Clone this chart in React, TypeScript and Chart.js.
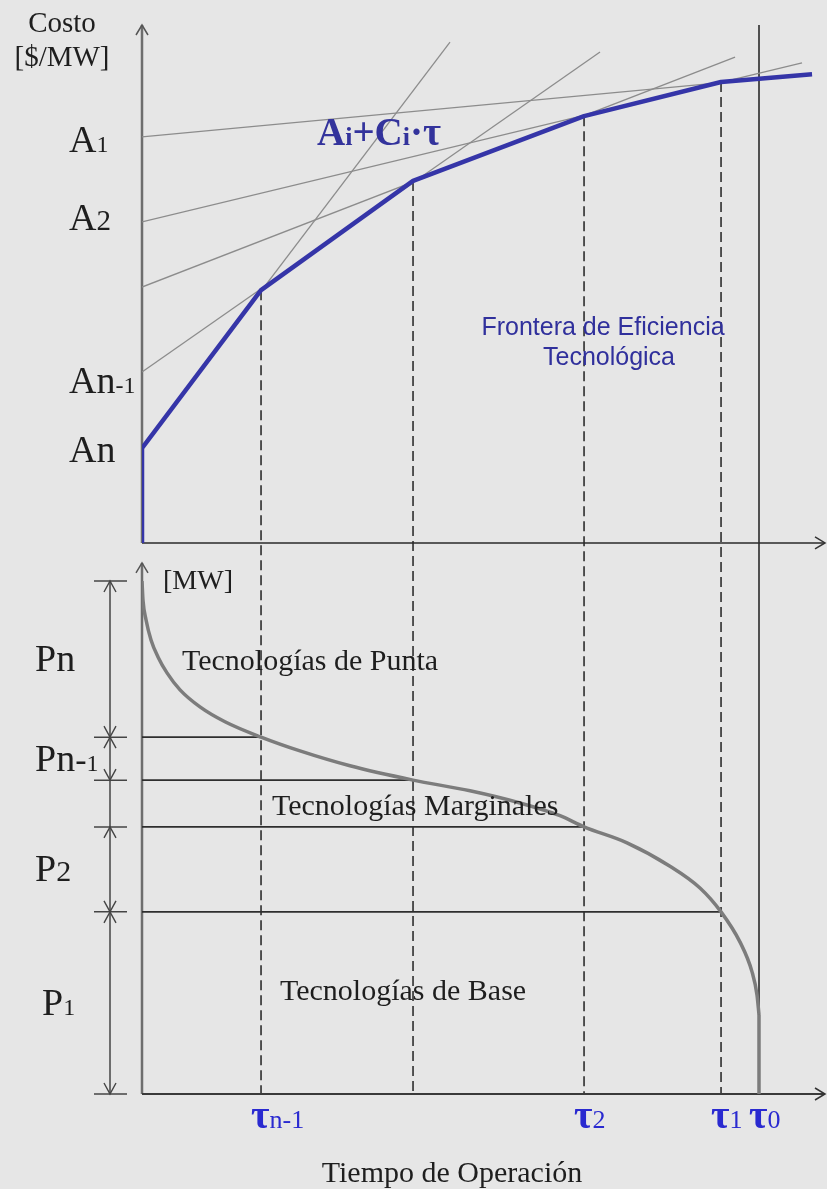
import React, { useEffect, useRef } from 'react';
import { Chart, registerables } from 'chart.js';

Chart.register(...registerables);

// ---------- data (x in hours of operation, cost in $/MW units, power in MW) ----------
const hoursAxisMax = 9697;
const costAxisMin = -106.4;
const costAxisMax = 100;
const mwAxisMax = 201.3;
const costArrowTop = 100;
const mwArrowTop = 100;

const frontierX = [0, 0, 1690, 3848, 6276, 8221, 9513];
const frontierY = [0, 18.3, 48.8, 69.9, 82.4, 89.0, 90.5];

const techNames = ['A1', 'A2', '', 'An-1', 'An'];
const techIntercepts = [78.4, 62.0, 49.4, 33.0, 18.3];
const techEndX = [9513, 9371, 8420, 6503, 4373];
const techEndY = [90.5, 92.7, 93.8, 94.8, 96.7];

const tauX = [1690, 3848, 6276, 8221];
const tauNames = ['τn-1', '', 'τ2', 'τ1'];
const tauFrontierCost = [48.8, 69.9, 82.4, 89.0];
const tauLevelsMW = [67.2, 59.1, 50.3, 34.3];
const tau0 = 8760;
const tau0Name = 'τ0';

const ldcX = [0, 14, 57, 128, 227, 355, 540, 823, 1178, 1690, 2243, 2953, 3848, 4657, 5367, 5935, 6276, 6886, 7496, 7922, 8221, 8491, 8661, 8732, 8760];
const ldcY = [96.6, 93.0, 89.3, 85.5, 82.3, 79.3, 76.1, 72.9, 70.1, 67.2, 64.6, 61.8, 59.1, 57.1, 54.8, 52.4, 50.3, 47.3, 42.9, 38.8, 34.3, 28.6, 23.0, 18.6, 14.9];

const powerBounds = [96.6, 67.2, 59.1, 50.3, 34.3, 0];
const powerNames = ['Pn', 'Pn-1', '', 'P2', 'P1'];

const zoneNames = ['Tecnologías de Punta', 'Tecnologías Marginales', 'Tecnologías de Base'];

// ---------- styles ----------
const BG = '#e6e6e6';
const SERIF = '"Liberation Serif", "Times New Roman", serif';
const SANS = '"Liberation Sans", Arial, sans-serif';
const BLUE_DARK = '#33339c';
const BLUE_TAU = '#2a2ad0';
const TEXT = '#1e1e1e';

type Part = { t: string; size: number; bold?: boolean };

function drawRich(ctx: CanvasRenderingContext2D, parts: Part[], x: number, y: number, color: string, family: string, align: 'left' | 'center' = 'left') {
  ctx.save();
  ctx.fillStyle = color;
  ctx.textBaseline = 'alphabetic';
  ctx.textAlign = 'left';
  const widths = parts.map((p) => {
    ctx.font = `${p.bold ? 'bold ' : ''}${p.size}px ${family}`;
    return ctx.measureText(p.t).width;
  });
  const total = widths.reduce((a, b) => a + b, 0);
  let cx = align === 'center' ? x - total / 2 : x;
  parts.forEach((p, i) => {
    ctx.font = `${p.bold ? 'bold ' : ''}${p.size}px ${family}`;
    ctx.fillText(p.t, cx, y);
    cx += widths[i];
  });
  ctx.restore();
}

function line(ctx: CanvasRenderingContext2D, x1: number, y1: number, x2: number, y2: number, color: string, w: number, dash: number[] = []) {
  ctx.save();
  ctx.strokeStyle = color;
  ctx.lineWidth = w;
  ctx.setLineDash(dash);
  ctx.beginPath();
  ctx.moveTo(x1, y1);
  ctx.lineTo(x2, y2);
  ctx.stroke();
  ctx.restore();
}

function chevron(ctx: CanvasRenderingContext2D, x: number, y: number, dx: number, dy: number, color: string, len = 10, half = 6, w = 1.5) {
  const px = -dy, py = dx;
  ctx.save();
  ctx.strokeStyle = color;
  ctx.lineWidth = w;
  ctx.beginPath();
  ctx.moveTo(x - dx * len + px * half, y - dy * len + py * half);
  ctx.lineTo(x, y);
  ctx.lineTo(x - dx * len - px * half, y - dy * len - py * half);
  ctx.stroke();
  ctx.restore();
}

const diagramPlugin = {
  id: 'diagram',
  beforeDraw(chart: any) {
    const ctx = chart.ctx as CanvasRenderingContext2D;
    ctx.save();
    ctx.fillStyle = BG;
    ctx.fillRect(0, 0, chart.width, chart.height);
    ctx.restore();
  },
  beforeDatasetsDraw(chart: any) {
    const ctx = chart.ctx as CanvasRenderingContext2D;
    const xs = chart.scales.x;
    const yc = chart.scales.yCost;
    const ym = chart.scales.yMW;
    const x0 = xs.getPixelForValue(0);
    const xEnd = xs.getPixelForValue(hoursAxisMax);
    tauX.forEach((t, i) => {
      const px = xs.getPixelForValue(t);
      line(ctx, px, yc.getPixelForValue(tauFrontierCost[i]), px, ym.getPixelForValue(0), '#2e2e2e', 1.6, [10, 5]);
    });
    const p0 = xs.getPixelForValue(tau0);
    line(ctx, p0, yc.getPixelForValue(costArrowTop), p0, ym.getPixelForValue(0), '#505050', 2);
    line(ctx, x0, yc.getPixelForValue(0), x0, yc.getPixelForValue(costArrowTop), '#6e6e6e', 2.5);
    line(ctx, x0, yc.getPixelForValue(0), xEnd, yc.getPixelForValue(0), '#2a2a2a', 1.6);
    line(ctx, x0, ym.getPixelForValue(0), x0, ym.getPixelForValue(mwArrowTop), '#6e6e6e', 2.5);
    line(ctx, x0, ym.getPixelForValue(0), xEnd, ym.getPixelForValue(0), '#3a3a3a', 2);
  },
  afterDatasetsDraw(chart: any) {
    const ctx = chart.ctx as CanvasRenderingContext2D;
    const xs = chart.scales.x;
    const yc = chart.scales.yCost;
    const ym = chart.scales.yMW;
    const x0 = xs.getPixelForValue(0);
    const xEnd = xs.getPixelForValue(hoursAxisMax);
    chevron(ctx, x0, yc.getPixelForValue(costArrowTop), 0, -1, '#555');
    chevron(ctx, x0, ym.getPixelForValue(mwArrowTop), 0, -1, '#555');
    chevron(ctx, xEnd, yc.getPixelForValue(0), 1, 0, '#333');
    chevron(ctx, xEnd, ym.getPixelForValue(0), 1, 0, '#333');

    const dimX = x0 - 32;
    line(ctx, dimX, ym.getPixelForValue(powerBounds[0]), dimX, ym.getPixelForValue(0), '#444', 1.5);
    powerBounds.forEach((b) => {
      const py = ym.getPixelForValue(b);
      line(ctx, x0 - 48, py, x0 - 15, py, '#444', 1.5);
    });
    powerNames.forEach((n, i) => {
      if (!n) return;
      const top = ym.getPixelForValue(powerBounds[i]);
      const bot = ym.getPixelForValue(powerBounds[i + 1]);
      chevron(ctx, dimX, top, 0, -1, '#444', 11, 6, 1.4);
      chevron(ctx, dimX, bot, 0, 1, '#444', 11, 6, 1.4);
      const mid = (top + bot) / 2;
      let parts: Part[];
      if (n === 'Pn') parts = [{ t: 'Pn', size: 38 }];
      else if (n === 'Pn-1') parts = [{ t: 'Pn', size: 38 }, { t: '-', size: 34 }, { t: '1', size: 24 }];
      else parts = [{ t: 'P', size: 38 }, { t: n.slice(1), size: n === 'P1' ? 24 : 30 }];
      drawRich(ctx, parts, n === 'P1' ? 42 : 35, mid + 12, TEXT, SERIF);
    });

    const techDy = [15, 8, 0, 21, 14];
    techNames.forEach((n, i) => {
      if (!n) return;
      const py = yc.getPixelForValue(techIntercepts[i]) + techDy[i];
      let parts: Part[];
      if (n === 'An') parts = [{ t: 'An', size: 38 }];
      else if (n === 'An-1') parts = [{ t: 'An', size: 38 }, { t: '-1', size: 24 }];
      else parts = [{ t: 'A', size: 38 }, { t: n.slice(1), size: n === 'A1' ? 24 : 29 }];
      drawRich(ctx, parts, 69, py, TEXT, SERIF);
    });

    drawRich(ctx, [{ t: 'Costo', size: 29 }], 62, yc.getPixelForValue(costArrowTop) + 7, TEXT, SERIF, 'center');
    drawRich(ctx, [{ t: '[$/MW]', size: 29 }], 62, yc.getPixelForValue(costArrowTop) + 41, TEXT, SERIF, 'center');
    drawRich(ctx, [{ t: '[MW]', size: 28 }], x0 + 21, ym.getPixelForValue(mwArrowTop) + 26, TEXT, SERIF);

    drawRich(ctx, [
      { t: 'A', size: 39, bold: true },
      { t: 'i', size: 26, bold: true },
      { t: '+', size: 39, bold: true },
      { t: 'C', size: 39, bold: true },
      { t: 'i', size: 26, bold: true },
      { t: '·', size: 39, bold: true },
      { t: 'τ', size: 39, bold: true },
    ], 317, 145, BLUE_DARK, SERIF);

    drawRich(ctx, [{ t: 'Frontera de Eficiencia', size: 25 }], 603, 335, '#30309c', SANS, 'center');
    drawRich(ctx, [{ t: 'Tecnológica', size: 25 }], 609, 365, '#30309c', SANS, 'center');

    drawRich(ctx, [{ t: zoneNames[0], size: 30 }], 182, 670, TEXT, SERIF);
    drawRich(ctx, [{ t: zoneNames[1], size: 30 }], 272, 815, TEXT, SERIF);
    drawRich(ctx, [{ t: zoneNames[2], size: 30 }], 280, 1000, TEXT, SERIF);

    const tauBase = ym.getPixelForValue(0) + 34;
    const drawTau = (name: string, t: number) => {
      const px = xs.getPixelForValue(t);
      drawRich(ctx, [{ t: 'τ', size: 40, bold: true }, { t: name.slice(1), size: 26 }], px - 10, tauBase, BLUE_TAU, SERIF);
    };
    tauNames.forEach((n, i) => { if (n) drawTau(n, tauX[i]); });
    drawTau(tau0Name, tau0);

    drawRich(ctx, [{ t: 'Tiempo de Operación', size: 30 }], 452, ym.getPixelForValue(0) + 88, TEXT, SERIF, 'center');
  },
};

export default function App() {
  const ref = useRef<HTMLCanvasElement>(null);
  useEffect(() => {
    document.body.style.margin = '0';
    document.body.style.background = BG;
    const pts = (xs: number[], ys: number[]) => xs.map((x, i) => ({ x, y: ys[i] }));
    const datasets: any[] = [];
    datasets.push({
      data: pts(frontierX, frontierY), yAxisID: 'yCost', borderColor: '#3535a8', borderWidth: 4.5,
      showLine: true, pointRadius: 0, tension: 0, borderJoinStyle: 'round',
    });
    datasets.push({
      data: pts(ldcX, ldcY), yAxisID: 'yMW', borderColor: '#7c7c7c', borderWidth: 3.5,
      showLine: true, pointRadius: 0, cubicInterpolationMode: 'monotone',
    });
    datasets.push({
      data: [{ x: tau0, y: ldcY[ldcY.length - 1] }, { x: tau0, y: 0 }], yAxisID: 'yMW', borderColor: '#7c7c7c', borderWidth: 3.5,
      showLine: true, pointRadius: 0,
    });
    techIntercepts.forEach((a, i) => {
      datasets.push({
        data: [{ x: 0, y: a }, { x: techEndX[i], y: techEndY[i] }], yAxisID: 'yCost', borderColor: '#8c8c8c', borderWidth: 1.3,
        showLine: true, pointRadius: 0,
      });
    });
    tauLevelsMW.forEach((m, i) => {
      datasets.push({
        data: [{ x: 0, y: m }, { x: tauX[i], y: m }], yAxisID: 'yMW', borderColor: '#2e2e2e', borderWidth: 1.6,
        showLine: true, pointRadius: 0,
      });
    });
    const chart = new Chart(ref.current as HTMLCanvasElement, {
      type: 'scatter',
      data: { datasets },
      options: {
        animation: false,
        responsive: false,
        maintainAspectRatio: false,
        devicePixelRatio: 1,
        events: [],
        layout: { padding: { left: 142, right: 2, top: 25, bottom: 95 } },
        plugins: { legend: { display: false }, tooltip: { enabled: false } },
        scales: {
          x: { type: 'linear', min: 0, max: hoursAxisMax, display: false },
          yCost: { type: 'linear', min: costAxisMin, max: costAxisMax, display: false },
          yMW: { type: 'linear', min: 0, max: mwAxisMax, display: false },
        },
      } as any,
      plugins: [diagramPlugin],
    });
    return () => chart.destroy();
  }, []);
  return (
    <div style={{ width: 827, height: 1189 }}>
      <canvas ref={ref} width={827} height={1189} style={{ display: 'block', width: 827, height: 1189 }} />
    </div>
  );
}
